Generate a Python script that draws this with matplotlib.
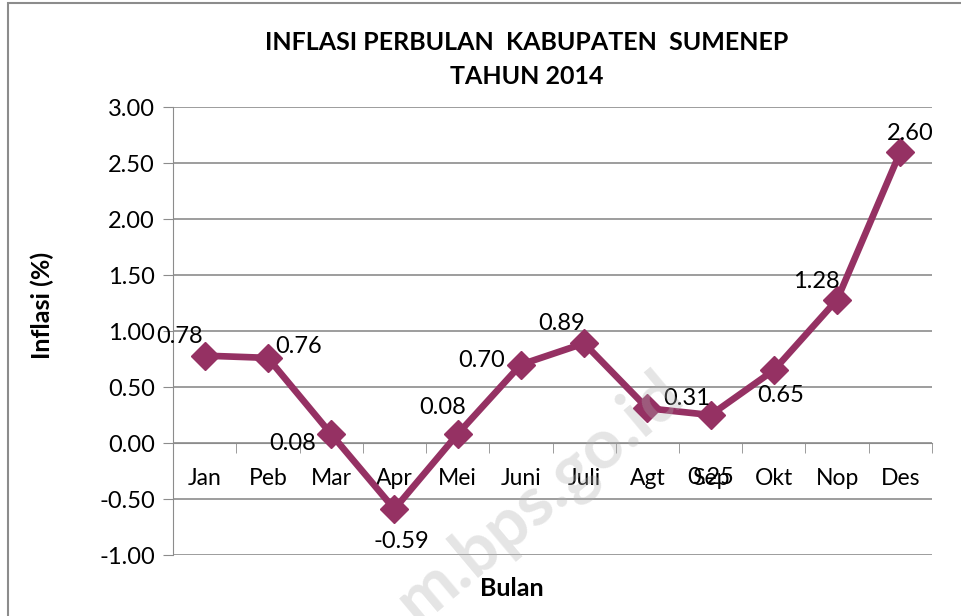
import numpy as np
import matplotlib
matplotlib.use('Agg')
import matplotlib.pyplot as plt
from matplotlib.patches import Rectangle

plt.rcParams['font.family'] = ['Lato', 'DejaVu Sans']

# data
bulan = ['Jan', 'Peb', 'Mar', 'Apr', 'Mei', 'Juni', 'Juli', 'Agt', 'Sep', 'Okt', 'Nop', 'Des']
inflasi = [0.78, 0.76, 0.08, -0.59, 0.08, 0.70, 0.89, 0.31, 0.25, 0.65, 1.28, 2.60]
# label placement per point (offset in points)
lbl_off = [(-18, 14), (22, 8), (-28, -7), (5, -23), (-11, 19), (-28, 3),
           (-16, 14), (28, 7), (0, -45), (5, -18), (-15, 13), (7, 13)]
y_ticks = np.arange(-1.0, 3.01, 0.5)

col = '#953163'
grid_col = '#8c8c8c'

fig = plt.figure(figsize=(9.62, 6.16), dpi=100)
ax = fig.add_axes([173/962, 1-555/616, 759/962, 448/616])

x = np.arange(len(bulan))
ax.plot(x, inflasi, color=col, lw=4.8, marker='D', ms=14, mfc=col, mec=col, zorder=5)

for xi, v, off in zip(x, inflasi, lbl_off):
    ax.annotate('%.2f' % v, (xi, v), xytext=off, textcoords='offset points',
                ha='center', va='center', fontsize=17, zorder=6)

ax.set_xlim(-0.5, len(bulan) - 0.5)
ax.set_ylim(-1.0, 3.0)
ax.set_yticks(y_ticks)
ax.set_yticklabels(['%.2f' % t for t in y_ticks], fontsize=17)
ax.yaxis.grid(True, color=grid_col, lw=1.2)
ax.set_axisbelow(True)

ax.spines['top'].set_visible(False)
ax.spines['right'].set_visible(False)
ax.spines['left'].set_color(grid_col)
ax.spines['bottom'].set_color(grid_col)
ax.spines['bottom'].set_position(('data', 0))
ax.tick_params(axis='y', direction='out', length=7, color=grid_col, pad=6)

# categories at centres, tick marks at boundaries
ax.set_xticks(x)
ax.set_xticklabels(bulan, fontsize=16.5)
ax.set_xticks(np.arange(-0.5, len(bulan), 1.0), minor=True)
ax.tick_params(axis='x', which='major', length=0, pad=18)
ax.tick_params(axis='x', which='minor', length=7, color=grid_col, direction='out')

fig.text(42/962, 1-305/616, 'Inflasi (%)', rotation=90, ha='center', va='center',
         fontsize=18, fontweight='bold')
fig.text(512/962, 1-588/616, 'Bulan', ha='center', va='center',
         fontsize=18, fontweight='bold')

fig.text(527/962, 1-42/616, 'INFLASI PERBULAN  KABUPATEN  SUMENEP', ha='center', va='center',
         fontsize=18, fontweight='bold')
fig.text(527/962, 1-77/616, 'TAHUN 2014', ha='center', va='center',
         fontsize=18, fontweight='bold')

# faint watermark
fig.text(540/962, 1-498/616, 'm.bps.go.id', rotation=40, ha='center', va='center',
         fontsize=50, fontweight='bold', color='#b0b0b0', alpha=0.33, zorder=10)

# chart border (cropped on right and bottom)
fig.add_artist(Rectangle((8/962, -0.1), 1.2, 1 - 3/616 + 0.1, transform=fig.transFigure,
                         fill=False, edgecolor='#8c8c8c', lw=1.5))

fig.savefig('out.png', dpi=100)
